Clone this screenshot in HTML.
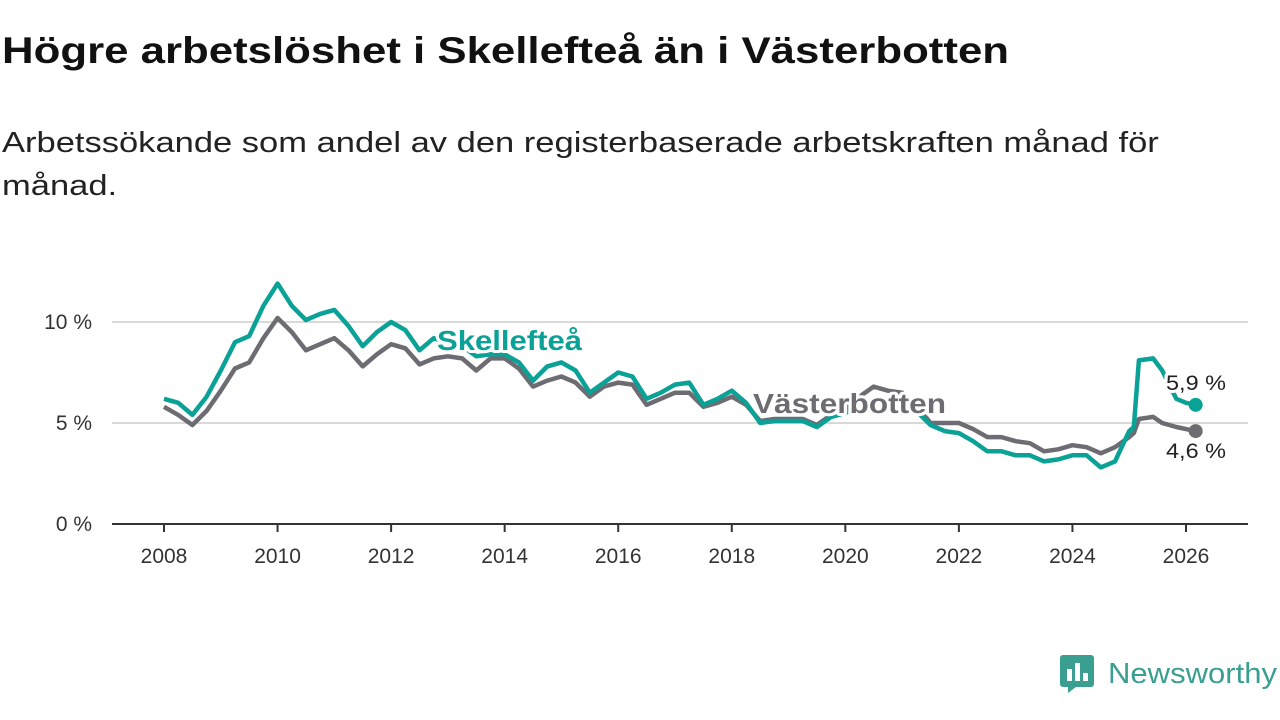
<!DOCTYPE html>
<html><head><meta charset="utf-8">
<style>
body{margin:0;width:1280px;height:720px;background:#fff;font-family:"Liberation Sans","DejaVu Sans",sans-serif;overflow:hidden;position:relative}
h1{position:absolute;left:2px;top:30px;margin:0;font-size:37px;font-weight:bold;color:#111;transform:scaleX(1.183);transform-origin:left top;white-space:nowrap}
.sub{position:absolute;left:2px;top:122px;margin:0;font-size:29px;line-height:43px;color:#222;width:990px;transform:scaleX(1.19);transform-origin:left top}
svg{position:absolute;left:0;top:0}
</style></head><body>
<h1>Högre arbetslöshet i Skellefteå än i Västerbotten</h1>
<p class="sub">Arbetssökande som andel av den registerbaserade arbetskraften månad för månad.</p>
<svg id="chart" width="1280" height="720"></svg>
<div style="position:absolute;left:1060px;top:655px;display:flex;align-items:center">
<svg width="34" height="38" style="position:static"><rect x="0" y="0" width="34" height="32" rx="3" fill="#3a9e91"/><polygon points="8,32 16,32 8,38" fill="#3a9e91"/><rect x="7" y="14" width="5" height="12" fill="#fff"/><rect x="15" y="8" width="5" height="18" fill="#fff"/><rect x="23" y="18" width="5" height="8" fill="#fff"/></svg>
<span style="font-size:29px;color:#3a9e91;margin-left:14px;display:inline-block;transform:scaleX(1.07);transform-origin:left center">Newsworthy</span></div>
<script>
const dates=[2008,2008.25,2008.5,2008.75,2009,2009.25,2009.5,2009.75,2010,2010.25,2010.5,2010.75,2011,2011.25,2011.5,2011.75,2012,2012.25,2012.5,2012.75,2013,2013.25,2013.5,2013.75,2014,2014.25,2014.5,2014.75,2015,2015.25,2015.5,2015.75,2016,2016.25,2016.5,2016.75,2017,2017.25,2017.5,2017.75,2018,2018.25,2018.5,2018.75,2019,2019.25,2019.5,2019.75,2020,2020.25,2020.5,2020.75,2021,2021.25,2021.5,2021.75,2022,2022.25,2022.5,2022.75,2023,2023.25,2023.5,2023.75,2024,2024.25,2024.5,2024.75,2025,2025.08,2025.17,2025.42,2025.58,2025.83,2026,2026.17];
const skelleftea=[6.2,6.0,5.4,6.3,7.6,9.0,9.3,10.8,11.9,10.8,10.1,10.4,10.6,9.8,8.8,9.5,10.0,9.6,8.6,9.2,9.0,8.8,8.3,8.4,8.4,8.0,7.1,7.8,8.0,7.6,6.5,7.0,7.5,7.3,6.2,6.5,6.9,7.0,5.9,6.2,6.6,6.0,5.0,5.1,5.1,5.1,4.8,5.3,5.5,5.8,6.2,6.0,5.9,5.6,4.9,4.6,4.5,4.1,3.6,3.6,3.4,3.4,3.1,3.2,3.4,3.4,2.8,3.1,4.6,4.8,8.1,8.2,7.6,6.2,6.0,5.9];
const vasterbotten=[5.8,5.4,4.9,5.6,6.6,7.7,8.0,9.2,10.2,9.5,8.6,8.9,9.2,8.6,7.8,8.4,8.9,8.7,7.9,8.2,8.3,8.2,7.6,8.2,8.2,7.7,6.8,7.1,7.3,7.0,6.3,6.8,7.0,6.9,5.9,6.2,6.5,6.5,5.8,6.0,6.3,5.9,5.1,5.2,5.2,5.2,4.9,5.4,5.7,6.3,6.8,6.6,6.5,5.9,5.0,5.0,5.0,4.7,4.3,4.3,4.1,4.0,3.6,3.7,3.9,3.8,3.5,3.8,4.3,4.5,5.2,5.3,5.0,4.8,4.7,4.6];
const yTicks=[0,5,10];
const yTickLabels=["0 %","5 %","10 %"];
const xTicks=[2008,2010,2012,2014,2016,2018,2020,2022,2024,2026];
const NS="http://www.w3.org/2000/svg";
const svg=document.getElementById('chart');
const X=v=>164+(v-2008)*(1186-164)/18;
const Y=v=>524-v*20.2;
function mk(t,a,p){const e=document.createElementNS(NS,t);for(const k in a)e.setAttribute(k,a[k]);(p||svg).appendChild(e);return e;}
yTicks.forEach((t,i)=>{
  if(t>0){const g=mk('line',{x1:112,x2:1248,y1:Y(t),y2:Y(t),stroke:'#d9d9d9','stroke-width':2});
  
  }
  const l=mk('text',{x:92,y:Y(t)+7,'text-anchor':'end','font-size':21,fill:'#333'});l.textContent=yTickLabels[i];
  
  
});
const ax=mk('line',{x1:112,x2:1248,y1:Y(0),y2:Y(0),stroke:'#333','stroke-width':2});


xTicks.forEach(t=>{
  const tk=mk('line',{x1:X(t),x2:X(t),y1:Y(0),y2:Y(0)+8,stroke:'#333','stroke-width':2});
  
  
  const l=mk('text',{x:X(t),y:563,'text-anchor':'middle','font-size':21,fill:'#333'});l.textContent=t;
  
  
});
function line(vals,col,name){
  const d=vals.map((v,i)=>(i?'L':'M')+X(dates[i]).toFixed(1)+','+Y(v).toFixed(1)).join('');
  const p=mk('path',{d:d,fill:'none',stroke:col,'stroke-width':4.5,'stroke-linejoin':'round'});
  
  
  const n=vals.length-1;
  const c=mk('circle',{cx:X(dates[n]),cy:Y(vals[n]),r:7,fill:col});
  
  
}
line(vasterbotten,'#6e6c73','vasterbotten-line');
line(skelleftea,'#0aa196','skelleftea-line');
function lbl(x,y,txt,col,name,w,size,len){
  const a={x:x,y:y,'font-size':size,'font-weight':w,fill:col,stroke:'#fff','stroke-width':6,'paint-order':'stroke','stroke-linejoin':'round'};
  if(len){a.textLength=len;a.lengthAdjust='spacingAndGlyphs';}
  const t=mk('text',a);t.textContent=txt;
  
  
}
lbl(437,350,'Skellefteå','#0aa196','skelleftea-label','bold',28,145);
lbl(753,413,'Västerbotten','#6e6c73','vasterbotten-label','bold',28,193);
lbl(1166,390,'5,9 %','#222','skelleftea-end-value','normal',21,60);
lbl(1166,458,'4,6 %','#222','vasterbotten-end-value','normal',21,60);
</script>
</body></html>
